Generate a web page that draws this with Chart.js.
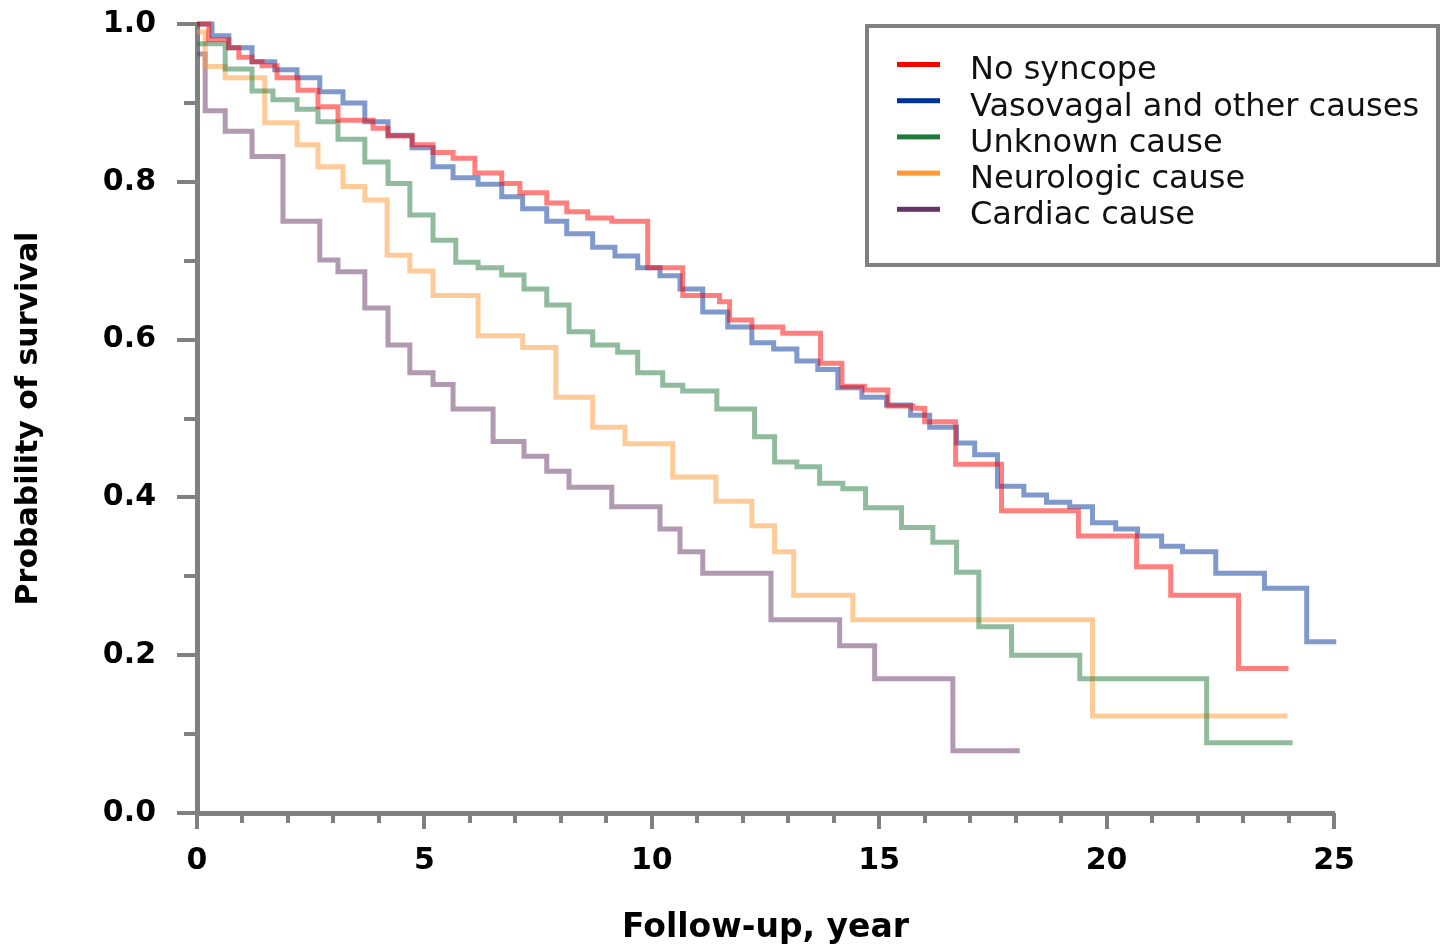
<!DOCTYPE html>
<html>
<head>
<meta charset="utf-8">
<script src="https://cdn.jsdelivr.net/npm/chart.js@4.4.0/dist/chart.umd.min.js"></script>
<style>
  html, body { margin: 0; padding: 0; background: #fff; }
  #wrap { width: 1441px; height: 944px; }
</style>
</head>
<body>
<div id="wrap"><canvas id="survivalChart" width="1441" height="944"></canvas></div>
<script>
// Survival by cause of syncope (Kaplan-Meier steps)

const seriesLabels = ['No syncope', 'Vasovagal and other causes', 'Unknown cause', 'Neurologic cause', 'Cardiac cause'];

// year of each step, survival after the step
const noSyncopeYears = [0, 0.26, 0.70, 0.92, 1.21, 1.43, 1.76, 2.22, 2.66, 3.10, 3.87, 4.20, 4.73, 5.19, 5.63, 6.11, 6.70, 7.10, 7.69, 8.13, 8.59, 9.12, 9.91, 10.68, 11.49, 11.71, 12.20, 12.88, 13.71, 14.18, 14.68, 15.19, 15.74, 16.00, 16.68, 17.69, 19.38, 20.66, 21.41, 22.90, 24.0];
const noSyncopeSurvival = [1.0, 0.980, 0.970, 0.958, 0.952, 0.947, 0.932, 0.916, 0.895, 0.878, 0.868, 0.858, 0.847, 0.837, 0.830, 0.811, 0.798, 0.786, 0.773, 0.762, 0.754, 0.750, 0.691, 0.656, 0.648, 0.625, 0.616, 0.608, 0.570, 0.541, 0.536, 0.516, 0.513, 0.496, 0.442, 0.383, 0.351, 0.312, 0.276, 0.183, 0.183];

const vasovagalYears = [0, 0.33, 0.70, 1.21, 1.71, 2.20, 2.70, 3.21, 3.69, 4.20, 4.73, 5.19, 5.63, 6.18, 6.70, 7.16, 7.69, 8.13, 8.70, 9.19, 9.69, 10.18, 10.62, 11.12, 11.67, 12.20, 12.68, 13.19, 13.65, 14.09, 14.62, 15.16, 15.69, 16.11, 16.70, 17.10, 17.60, 18.18, 18.68, 19.19, 19.69, 20.20, 20.68, 21.21, 21.67, 22.40, 23.47, 24.40, 25.05];
const vasovagalSurvival = [1.0, 0.985, 0.970, 0.952, 0.942, 0.932, 0.914, 0.900, 0.876, 0.859, 0.843, 0.819, 0.805, 0.797, 0.781, 0.766, 0.750, 0.734, 0.717, 0.706, 0.691, 0.681, 0.664, 0.635, 0.616, 0.596, 0.588, 0.573, 0.562, 0.539, 0.527, 0.517, 0.504, 0.489, 0.469, 0.454, 0.414, 0.403, 0.394, 0.388, 0.368, 0.360, 0.351, 0.338, 0.331, 0.304, 0.285, 0.217, 0.217];

const unknownYears = [0, 0.62, 1.21, 1.67, 2.20, 2.66, 3.10, 3.69, 4.20, 4.68, 5.19, 5.69, 6.18, 6.70, 7.19, 7.69, 8.18, 8.70, 9.25, 9.69, 10.24, 10.68, 11.43, 12.26, 12.70, 13.19, 13.69, 14.20, 14.70, 15.49, 16.18, 16.70, 17.19, 17.91, 19.41, 22.20, 24.09];
const unknownSurvival = [0.975, 0.943, 0.915, 0.904, 0.892, 0.876, 0.854, 0.825, 0.798, 0.758, 0.726, 0.698, 0.691, 0.682, 0.664, 0.644, 0.610, 0.593, 0.584, 0.558, 0.542, 0.535, 0.512, 0.477, 0.445, 0.439, 0.418, 0.411, 0.387, 0.362, 0.343, 0.305, 0.236, 0.200, 0.170, 0.089, 0.089];

const neurologicYears = [0, 0.18, 0.62, 1.49, 2.20, 2.66, 3.21, 3.69, 4.18, 4.68, 5.19, 6.18, 7.16, 7.89, 8.70, 9.41, 10.46, 11.41, 12.20, 12.70, 13.12, 14.42, 19.69, 23.98];
const neurologicSurvival = [0.99, 0.946, 0.932, 0.875, 0.847, 0.819, 0.794, 0.777, 0.707, 0.687, 0.656, 0.605, 0.590, 0.527, 0.489, 0.468, 0.426, 0.395, 0.364, 0.331, 0.276, 0.245, 0.123, 0.123];

const cardiacYears = [0, 0.18, 0.62, 1.21, 1.89, 2.70, 3.10, 3.69, 4.20, 4.68, 5.19, 5.63, 6.51, 7.19, 7.69, 8.18, 9.12, 10.18, 10.62, 11.12, 12.62, 14.13, 14.90, 16.62, 18.09];
const cardiacSurvival = [0.962, 0.890, 0.864, 0.832, 0.750, 0.701, 0.686, 0.640, 0.593, 0.558, 0.543, 0.512, 0.471, 0.452, 0.433, 0.413, 0.388, 0.360, 0.331, 0.304, 0.245, 0.212, 0.170, 0.079, 0.079];

const xTickValues = [0, 5, 10, 15, 20, 25];
const yTickValues = [0, 0.2, 0.4, 0.6, 0.8, 1.0];

const legendColors = ['#ff0000', '#003399', '#217a3c', '#ff9933', '#663366'];
const lineColors = ['rgba(255,0,0,0.5)', 'rgba(0,51,153,0.5)', 'rgba(33,122,60,0.5)', 'rgba(255,153,51,0.5)', 'rgba(102,51,102,0.5)'];

const allYears = [noSyncopeYears, vasovagalYears, unknownYears, neurologicYears, cardiacYears];
const allSurvival = [noSyncopeSurvival, vasovagalSurvival, unknownSurvival, neurologicSurvival, cardiacSurvival];

const AXIS_GRAY = '#808080';
const FONT = '"DejaVu Sans", Verdana, sans-serif';

// tick marks: long at labelled values, short in between
const axisTicks = {
    id: 'axisTicks',
    afterDraw(chart) {
        const ctx = chart.ctx;
        const x = chart.scales.x;
        const y = chart.scales.y;
        const left = chart.chartArea.left;
        const bottom = chart.chartArea.bottom;
        ctx.save();
        ctx.fillStyle = AXIS_GRAY;
        for (let i = 0; i <= 10; i++) {
            const py = Math.round(y.getPixelForValue(i / 10));
            const len = i % 2 === 0 ? 20 : 13;
            ctx.fillRect(left - len, py - 2, len, 4);
        }
        for (let i = 0; i <= 25; i++) {
            const px = Math.round(x.getPixelForValue(i));
            const len = i % 5 === 0 ? 16 : 10;
            ctx.fillRect(px - 2, bottom, 4, len);
        }
        ctx.restore();
    }
};

// boxed legend in the upper right
const legendBox = {
    id: 'legendBox',
    afterDraw(chart) {
        const ctx = chart.ctx;
        ctx.save();
        ctx.strokeStyle = AXIS_GRAY;
        ctx.lineWidth = 4;
        ctx.strokeRect(867, 26, 571, 239);
        ctx.font = '32px ' + FONT;
        ctx.textBaseline = 'middle';
        ctx.textAlign = 'left';
        chart.data.datasets.forEach((ds, i) => {
            const rowY = 71 + i * 36.2;
            ctx.fillStyle = legendColors[i];
            ctx.fillRect(897, rowY - 9, 43, 5);
            ctx.fillStyle = '#111';
            ctx.fillText(ds.label, 970, rowY);
        });
        ctx.restore();
    }
};

const datasets = seriesLabels.map((label, i) => ({
    label: label,
    data: allYears[i].map((t, k) => ({ x: t, y: allSurvival[i][k] })),
    borderColor: lineColors[i],
    borderWidth: 5,
    stepped: true,
    pointRadius: 0,
    fill: false,
    clip: false,
    borderJoinStyle: 'miter',
    borderCapStyle: 'butt',
}));

new Chart(document.getElementById('survivalChart'), {

    type: 'line',

    data: { datasets: datasets },

    options: {

        responsive: false,
        animation: false,

        layout: {
            padding: { top: 24, right: 107, bottom: 0, left: 0 }
        },

        plugins: {
            legend: { display: false },
            tooltip: { enabled: false }
        },

        scales: {
            x: {
                type: 'linear',
                min: 0,
                max: 25,
                afterBuildTicks: (scale) => {
                    scale.ticks = xTickValues.map(v => ({ value: v }));
                },
                afterFit: (scale) => {
                    scale.height = 131;
                    scale.paddingLeft = 0;
                    scale.paddingRight = 0;
                },
                grid: { display: false },
                border: { display: true, color: AXIS_GRAY, width: 5 },
                ticks: {
                    padding: 22,
                    maxRotation: 0,
                    autoSkip: false,
                    color: '#000',
                    font: { family: FONT, size: 30, weight: 'bold' },
                    callback: (v) => String(v)
                },
                title: {
                    display: true,
                    text: 'Follow-up, year',
                    color: '#000',
                    padding: { top: 0, bottom: -4 },
                    font: { family: FONT, size: 33, weight: 'bold' }
                }
            },
            y: {
                min: 0,
                max: 1,
                afterBuildTicks: (scale) => {
                    scale.ticks = yTickValues.map(v => ({ value: v }));
                },
                afterFit: (scale) => {
                    scale.width = 197;
                    scale.paddingTop = 0;
                    scale.paddingBottom = 0;
                },
                grid: { display: false },
                border: { display: true, color: AXIS_GRAY, width: 5 },
                ticks: {
                    padding: 33,
                    color: '#000',
                    font: { family: FONT, size: 30, weight: 'bold' },
                    callback: (v) => Number(v).toFixed(1)
                },
                title: {
                    display: true,
                    text: 'Probability of survival',
                    color: '#000',
                    padding: { top: 11, bottom: 0 },
                    font: { family: FONT, size: 30, weight: 'bold' }
                }
            }
        }
    },

    plugins: [axisTicks, legendBox]
});
</script>
</body>
</html>
